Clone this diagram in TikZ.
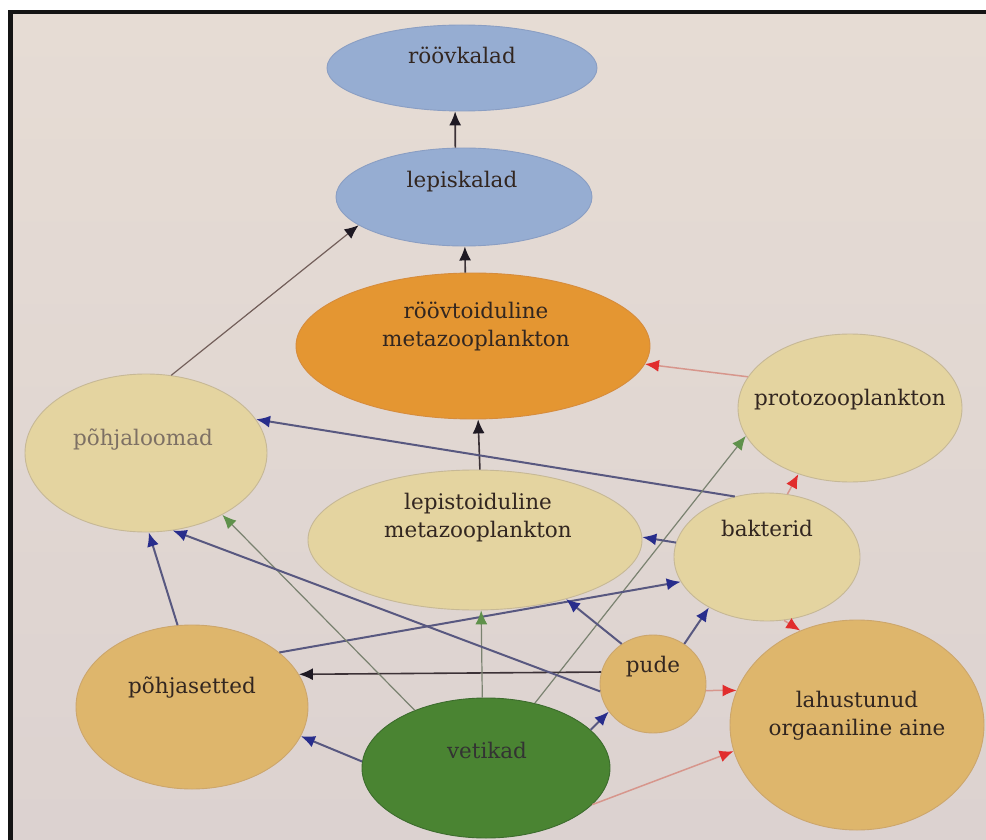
\documentclass[tikz,border=0pt]{standalone}
\usepackage{fontspec}
\setmainfont{DejaVu Serif}
\usetikzlibrary{shapes.geometric,arrows.meta}
\definecolor{bgtop}{RGB}{230,220,212}
\definecolor{bgbot}{RGB}{220,210,208}
\definecolor{bluefill}{RGB}{150,173,210}
\definecolor{blueedge}{RGB}{138,158,195}
\definecolor{orafill}{RGB}{228,150,50}
\definecolor{oraedge}{RGB}{214,140,60}
\definecolor{palefill}{RGB}{228,212,160}
\definecolor{paleedge}{RGB}{198,184,150}
\definecolor{tanfill}{RGB}{222,182,108}
\definecolor{tanedge}{RGB}{204,166,108}
\definecolor{grnfill}{RGB}{74,132,50}
\definecolor{grnedge}{RGB}{60,108,45}
\definecolor{txt}{RGB}{50,38,32}
\definecolor{txtgrey}{RGB}{125,112,100}
\definecolor{lnblk}{RGB}{60,50,55}
\definecolor{tpblk}{RGB}{30,25,35}
\definecolor{lnblue}{RGB}{88,88,128}
\definecolor{tpblue}{RGB}{40,45,140}
\definecolor{lngrn}{RGB}{122,130,112}
\definecolor{tpgrn}{RGB}{95,145,75}
\definecolor{lnred}{RGB}{215,150,140}
\definecolor{tpred}{RGB}{225,45,45}
\definecolor{lnbrown}{RGB}{115,95,90}
\begin{document}
\begin{tikzpicture}[x=1pt,y=-1pt,
  blob/.style={ellipse, draw, line width=0.9pt, inner sep=0pt},
  lbl/.style={font=\fontsize{21.5}{28}\selectfont, text=txt, align=center, inner sep=0pt},
  blkarr/.style={draw=lnblk, line width=1.6pt, -{Latex[length=14pt,width=12pt,color=tpblk]}},
  brnarr/.style={draw=lnbrown, line width=1.2pt, -{Latex[length=14pt,width=12pt,color=tpblk]}},
  bluarr/.style={draw=lnblue, line width=2pt, -{Latex[length=14pt,width=12pt,color=tpblue]}},
  grnarr/.style={draw=lngrn, line width=1.2pt, -{Latex[length=14pt,width=12pt,color=tpgrn]}},
  redarr/.style={draw=lnred, line width=1.5pt, -{Latex[length=14pt,width=12pt,color=tpred]}}]
\useasboundingbox (0,0) rectangle (986,840);
\fill[white] (0,0) rectangle (986,840);
\fill[black!92] (8,10) rectangle (986,840);
\shade[top color=bgtop,bottom color=bgbot] (13,15) rectangle (986,840);

% ellipses
\node[blob, fill=bluefill, draw=blueedge, minimum width=270, minimum height=86] (rk) at (462,68) {};
\node[blob, fill=bluefill, draw=blueedge, minimum width=256, minimum height=98] (lk) at (464,197) {};
\node[blob, fill=orafill, draw=oraedge, minimum width=354, minimum height=146] (rm) at (473,346) {};
\node[blob, fill=palefill, draw=paleedge, minimum width=224, minimum height=148] (pz) at (850,408) {};
\node[blob, fill=palefill, draw=paleedge, minimum width=242, minimum height=158] (pl) at (146,453) {};
\node[blob, fill=palefill, draw=paleedge, minimum width=334, minimum height=140] (lm) at (475,540) {};
\node[blob, fill=palefill, draw=paleedge, minimum width=186, minimum height=128] (bk) at (767,557) {};
\node[blob, fill=tanfill, draw=tanedge, minimum width=232, minimum height=164] (ps) at (192,707) {};
\node[blob, fill=tanfill, draw=tanedge, minimum width=106, minimum height=98] (pu) at (653,684) {};
\node[blob, fill=grnfill, draw=grnedge, minimum width=248, minimum height=140] (ve) at (486,768) {};
\node[blob, fill=tanfill, draw=tanedge, minimum width=254, minimum height=210] (la) at (857,725) {};

% labels
\node[lbl] (rk-t) at (462,55) {röövkalad};
\node[lbl] (lk-t) at (462,182) {lepiskalad};
\node[lbl] (rm-t) at (476,326) {röövtoiduline\\metazooplankton};
\node[lbl] (pz-t) at (850,400) {protozooplankton};
\node[lbl, text=txtgrey] (pl-t) at (143,440) {põhjaloomad};
\node[lbl] (lm-t) at (478,518) {lepistoiduline\\metazooplankton};
\node[lbl] (bk-t) at (767,528) {bakterid};
\node[lbl] (ps-t) at (192,688) {põhjasetted};
\node[lbl] (pu-t) at (653,667) {pude};
\node[lbl, text=black!80] (ve-t) at (487,750) {vetikad};
\node[lbl] (la-t) at (857,716) {lahustunud\\orgaaniline aine};

% connectors
\draw[blkarr] (lk.100) -- (rk.261);
\draw[blkarr] (rm.96) -- (lk.271);
\draw[brnarr] (pl.72.5) -- (lk.195.4);
\draw[blkarr] (lm.86.7) -- (rm.274.6);
\draw[redarr] (pz.163.6) -- (rm.354.1);
\draw[bluarr] (bk.118.4) -- (pl.17.4);
\draw[redarr] (bk.72.4) -- (pz.232.2);
\draw[grnarr] (ve.53.1) -- (pz.195.8);
\draw[bluarr] (bk.171.8) -- (lm.1.8);
\draw[bluarr] (ps.32.5) -- (bk.196.8);
\draw[bluarr] (pu.52.7) -- (bk.221.1);
\draw[redarr] (bk.285.3) -- (la.121.3);
\draw[redarr] (pu.353.7) -- (la.164.4);
\draw[redarr] (ve.341.9) -- (la.192.4);
\draw[bluarr] (ve.20.4) -- (pu.212.6);
\draw[blkarr] (pu.167.2) -- (ps.17.5);
\draw[bluarr] (ve.177.7) -- (ps.345.5);
\draw[grnarr] (ve.93.3) -- (lm.275.6);
\draw[grnarr] (ve.141.9) -- (pl.321.4);
\draw[bluarr] (pu.188.6) -- (pl.289.9);
\draw[bluarr] (ps.100.4) -- (pl.272.7);
\draw[bluarr] (pu.128.2) -- (lm.327.4);
\end{tikzpicture}
\end{document}
